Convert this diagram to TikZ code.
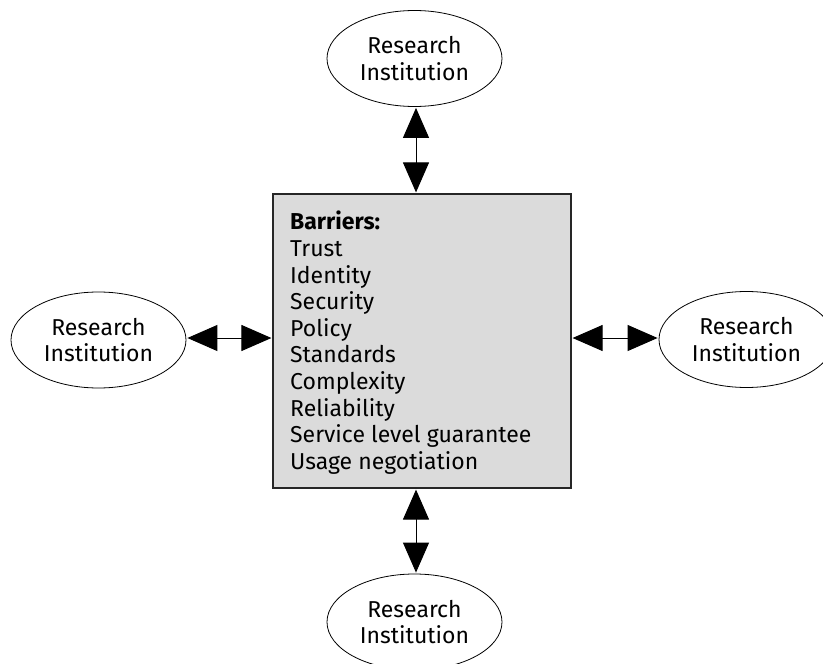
\documentclass[tikz,border=0pt]{standalone}
\usepackage{fontspec}
\setmainfont{Fira Sans}
\usetikzlibrary{arrows.meta,shapes.geometric}
\begin{document}
\begin{tikzpicture}[x=1pt,y=-1pt,
  inst/.style={ellipse, draw, line width=0.8pt, minimum width=175pt,
    minimum height=96pt, align=center, inner sep=0pt,
    font=\fontsize{23}{26.7}\selectfont},
  barrier/.style={draw=black!85, fill=black!14, line width=1.2pt,
    minimum width=298pt, minimum height=294pt, inner sep=0pt},
  listing/.style={align=left, inner sep=0pt, anchor=north west,
    font=\fontsize{23}{26.6}\selectfont},
  link/.style={line width=1pt, {Triangle[length=30pt,width=26pt]}-{Triangle[length=30pt,width=26pt]}, shorten <=1pt, shorten >=1pt}]
\useasboundingbox (0,0) rectangle (823,664);
% central box with the list of barriers
\node[barrier] (box) at (422,341) {};
\node[listing] (list) at (290,211) {\textbf{Barriers:}\\Trust\\Identity\\Security\\Policy\\Standards\\Complexity\\Reliability\\Service level guarantee\\Usage negotiation};
% the four institutions
\node[inst] (top) at (414.5,58.5) {Research\\Institution};
\node[inst] (left) at (98.5,340) {Research\\Institution};
\node[inst] (right) at (746.5,339.5) {Research\\Institution};
\node[inst] (bottom) at (414.5,622) {Research\\Institution};
% two-way links
\draw[link] (top.south -| 416,0) -- (box.north -| 416,0);
\draw[link] (box.south -| 416,0) -- (bottom.north -| 416,0);
\draw[link] (left.east |- 0,338) -- (box.west |- 0,338);
\draw[link] (box.east |- 0,338) -- (right.west |- 0,338);
\end{tikzpicture}
\end{document}
